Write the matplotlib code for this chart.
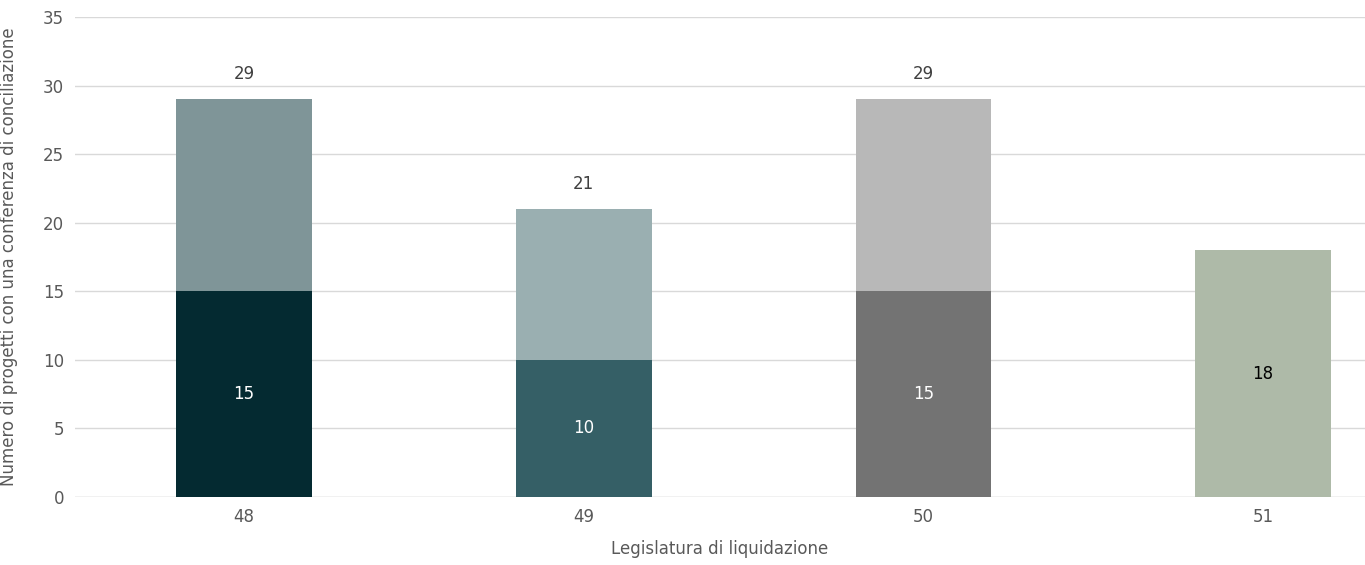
import matplotlib.pyplot as plt

categories = ['48', '49', '50', '51']
bottom_vals = [15, 10, 15, 18]
top_vals = [14, 11, 14, 0]
totals = [29, 21, 29, None]

bottom_colors = ['#042a31', '#355f66', '#737373', '#aebaa8']
top_colors = ['#7f9598', '#9aafb1', '#b8b8b8', '#aebaa8']
inner_text = ['white', 'white', 'white', 'black']

fig = plt.figure(figsize=(13.65, 5.65), dpi=100)
ax = fig.add_axes([75 / 1365, 68 / 565, 1290 / 1365, 480 / 565])
x = range(len(categories))
ax.bar(x, bottom_vals, width=0.4, color=bottom_colors, zorder=2)
ax.bar(x, top_vals, width=0.4, bottom=bottom_vals, color=top_colors, zorder=2)

for i in x:
    ax.text(i, bottom_vals[i] / 2, str(bottom_vals[i]), ha='center', va='center',
            color=inner_text[i], fontsize=12)
    if totals[i] is not None:
        ax.text(i, totals[i] + 1.2, str(totals[i]), ha='center', va='bottom',
                color='#404040', fontsize=12)

ax.set_xlim(-0.498, 3.30)
ax.set_ylim(0, 35)
ax.set_yticks(range(0, 36, 5))
ax.set_xticks(list(x))
ax.set_xticklabels(categories)
ax.tick_params(length=0, labelsize=12, colors='#595959', pad=8)
ax.grid(axis='y', color='#d9d9d9', linewidth=1, zorder=0)
for s in ax.spines.values():
    s.set_visible(False)
ax.axhline(0, color='#d9d9d9', linewidth=1, zorder=1)
ax.set_xlabel('Legislatura di liquidazione', fontsize=12, color='#595959', labelpad=10)
ax.set_ylabel('Numero di progetti con una conferenza di conciliazione', fontsize=12,
              color='#595959', labelpad=18)

fig.savefig('out.png', dpi=100)
